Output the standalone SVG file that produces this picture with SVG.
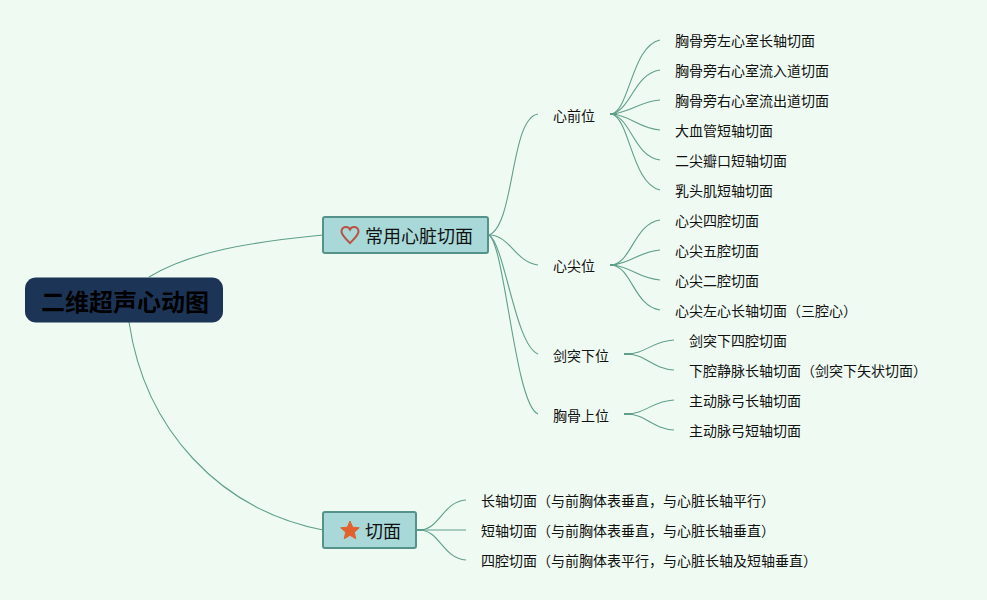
<svg xmlns="http://www.w3.org/2000/svg" width="987" height="600" viewBox="0 0 987 600">
<style>
text{font-family:"Noto Sans CJK SC","Noto Sans",sans-serif;fill:#111;dominant-baseline:central}
.leaf{font-size:14px}
.sub{font-size:14px}
.main{font-size:18px}
.root{font-size:24px;font-weight:700;fill:#000}
.box{fill:#a8d9d8;stroke:#55938a;stroke-width:2}
.c{fill:none;stroke:#5f9f8a;stroke-width:1.1}
.s{fill:none;stroke:#5f9f8a;stroke-width:2}
</style>
<rect width="987" height="600" fill="#effbf2"/>
<g id="connectors">
<path class="c" d="M149 277C190 252 250 242 323 235"/>
<path class="c" d="M129 322C145 430 220 510 323 530"/>
<path class="c" d="M489 235C515 225 510 118 538 114"/>
<path class="c" d="M489 235C510 235 515 262 538 265"/>
<path class="c" d="M489 235C505 245 515 345 538 354"/>
<path class="c" d="M489 235C505 245 515 405 538 414"/>
<path class="s" d="M610 114H617"/>
<path class="c" d="M612 114C630 108 632 46 660 40"/>
<path class="c" d="M612 114C632 108 634 74 660 70"/>
<path class="c" d="M612 114C632 112 638 102 660 100"/>
<path class="c" d="M612 114C632 116 638 128 660 130"/>
<path class="c" d="M612 114C632 120 634 156 660 160"/>
<path class="c" d="M612 114C630 120 632 184 660 190"/>
<path class="s" d="M610 265H617"/>
<path class="c" d="M612 265C632 262 634 224 660 220"/>
<path class="c" d="M612 265C632 263 638 252 660 250"/>
<path class="c" d="M612 265C632 267 638 278 660 280"/>
<path class="c" d="M612 265C632 268 634 306 660 310"/>
<path class="s" d="M624 354H632"/>
<path class="c" d="M626 354C646 354 652 341 674 340"/>
<path class="c" d="M626 354C646 354 652 369 674 370"/>
<path class="s" d="M624 414H632"/>
<path class="c" d="M626 414C646 414 652 401 674 400"/>
<path class="c" d="M626 414C646 414 652 429 674 430"/>
<path class="s" d="M417 530H424"/>
<path class="c" d="M419 530C440 530 442 502 466 500"/>
<path class="c" d="M419 530H466"/>
<path class="c" d="M419 530C440 530 442 558 466 560"/>
</g>
<g id="root"><rect x="25" y="277.500" width="198" height="45" rx="11" fill="#1c3557"/><text class="root" x="41" y="300">二维超声心动图</text></g>
<g id="n-common"><rect class="box" x="323" y="217" width="165" height="36" rx="2"/><path d="M350 243C345 238 341.500 235 341.500 231.500C341.500 228.500 344 227 346 227C348 227 349.300 228 350 229.500C350.700 228 352 227 354 227C356 227 358.500 228.500 358.500 231.500C358.500 235 355 238 350 243Z" fill="none" stroke="#bb4f43" stroke-width="2"/><text class="main" x="365" y="235">常用心脏切面</text></g>
<g id="n-section"><rect class="box" x="323" y="512" width="93" height="36" rx="2"/><path d="M350 521L352.700 527.200L359.300 527.800L354.300 532.200L355.800 538.800L350 535.300L344.200 538.800L345.700 532.200L340.700 527.800L347.300 527.200Z" fill="#e2622f" stroke="#e2622f" stroke-linejoin="round"/><text class="main" x="365" y="530">切面</text></g>
<g id="n-xinqian"><text class="sub" x="553" y="115">心前位</text></g>
<g id="n-xinjian"><text class="sub" x="553" y="265">心尖位</text></g>
<g id="n-jiantu"><text class="sub" x="553" y="355">剑突下位</text></g>
<g id="n-xiongu"><text class="sub" x="553" y="415">胸骨上位</text></g>
<g id="l1"><text class="leaf" x="675" y="40">胸骨旁左心室长轴切面</text></g>
<g id="l2"><text class="leaf" x="675" y="70">胸骨旁右心室流入道切面</text></g>
<g id="l3"><text class="leaf" x="675" y="100">胸骨旁右心室流出道切面</text></g>
<g id="l4"><text class="leaf" x="675" y="130">大血管短轴切面</text></g>
<g id="l5"><text class="leaf" x="675" y="160">二尖瓣口短轴切面</text></g>
<g id="l6"><text class="leaf" x="675" y="190">乳头肌短轴切面</text></g>
<g id="l7"><text class="leaf" x="675" y="220">心尖四腔切面</text></g>
<g id="l8"><text class="leaf" x="675" y="250">心尖五腔切面</text></g>
<g id="l9"><text class="leaf" x="675" y="280">心尖二腔切面</text></g>
<g id="l10"><text class="leaf" x="675" y="310">心尖左心长轴切面（三腔心）</text></g>
<g id="l11"><text class="leaf" x="689" y="340">剑突下四腔切面</text></g>
<g id="l12"><text class="leaf" x="689" y="370">下腔静脉长轴切面（剑突下矢状切面）</text></g>
<g id="l13"><text class="leaf" x="689" y="400">主动脉弓长轴切面</text></g>
<g id="l14"><text class="leaf" x="689" y="430">主动脉弓短轴切面</text></g>
<g id="l15"><text class="leaf" x="481" y="500">长轴切面（与前胸体表垂直，与心脏长轴平行）</text></g>
<g id="l16"><text class="leaf" x="481" y="530">短轴切面（与前胸体表垂直，与心脏长轴垂直）</text></g>
<g id="l17"><text class="leaf" x="481" y="560">四腔切面（与前胸体表平行，与心脏长轴及短轴垂直）</text></g>
</svg>
